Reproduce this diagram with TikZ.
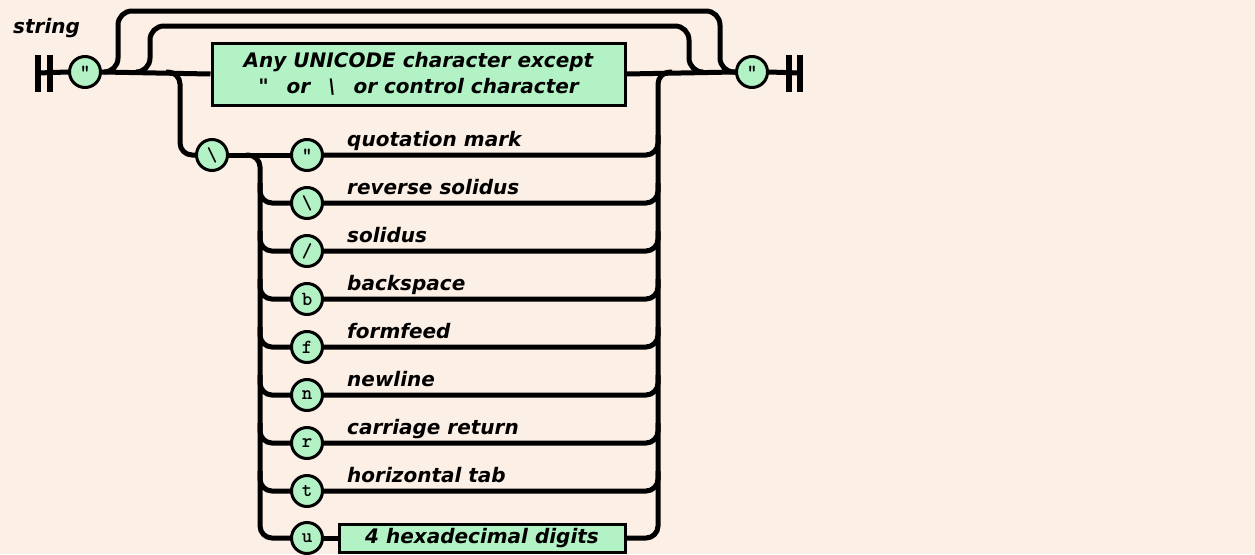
\documentclass[tikz,border=0pt]{standalone}
\usepackage{fontspec}
\newfontfamily\railfont[Ligatures=TeXOff]{DejaVu Sans}
\definecolor{paper}{HTML}{FCEFE5}
\definecolor{tokenfill}{HTML}{B2F2C4}
\begin{document}
\begin{tikzpicture}[x=1pt,y=-1pt,
  track/.style={line width=5pt, rounded corners=12pt},
  token/.style={circle, draw, line width=3pt, fill=tokenfill, minimum size=31pt,
    inner sep=0pt, font=\ttfamily\bfseries\fontsize{20}{20}\selectfont},
  sbox/.style={rectangle, draw, line width=3pt, fill=tokenfill, inner sep=0pt,
    align=center, font=\railfont\bfseries\itshape\fontsize{20}{26}\selectfont},
  termbar/.style={rectangle, fill=black, minimum width=6pt, minimum height=37pt, inner sep=0pt},
  lbl/.style={anchor=base west, inner sep=0pt,
    font=\railfont\bfseries\itshape\fontsize{20}{24}\selectfont}]
\fill[paper] (0,0) rectangle (1255,554);
\useasboundingbox (0,0) rectangle (1255,554);

% title
\node[lbl] (title) at (13,33) {string};

% terminators
\node[termbar] (lb1) at (38,73) {};
\node[termbar] (lb2) at (50,73) {};
\node[termbar] (rb1) at (789,73) {};
\node[termbar] (rb2) at (800,73) {};

% main line tokens
\node[token] (qo) at (85,72) {"};
\node[token] (qc) at (752,72) {"};
\node[sbox, minimum width=413pt, minimum height=62pt] (chars) at (418.5,74)
  {Any UNICODE character except\\"\hspace{0.9em}or\hspace{0.9em}\textbackslash\hspace{0.9em}or control character};

% escape tokens
\node[token] (esc) at (212,155) {\textbackslash};
\node[token] (r1) at (307,155) {"};
\node[token] (r2) at (307,203) {\textbackslash};
\node[token] (r3) at (307,251) {/};
\node[token] (r4) at (307,299) {b};
\node[token] (r5) at (307,347) {f};
\node[token] (r6) at (307,395) {n};
\node[token] (r7) at (307,443) {r};
\node[token] (r8) at (307,491) {t};
\node[token] (r9) at (307,538) {u};
\node[sbox, minimum width=286pt, minimum height=28pt] (hex) at (482,538) {4 hexadecimal digits};

% row labels
\node[lbl] (l1) at (347,146) {quotation mark};
\node[lbl] (l2) at (347,194) {reverse solidus};
\node[lbl] (l3) at (347,242) {solidus};
\node[lbl] (l4) at (347,290) {backspace};
\node[lbl] (l5) at (347,338) {formfeed};
\node[lbl] (l6) at (347,386) {newline};
\node[lbl] (l7) at (347,434) {carriage return};
\node[lbl] (l8) at (347,482) {horizontal tab};

% main line
\draw[track] (lb1.center) -- (qo.west);
\draw[track] (qo.east) -- (chars.west);
\draw[track] (chars.east) -- (qc.west);
\draw[track] (qc.east) -- (rb2.center);

% repeat loops over the character box
\coordinate (outerA) at (104,72);
\coordinate (outerB) at (736,72);
\coordinate (innerA) at (136,72);
\coordinate (innerB) at (703,72);
\draw[track, rounded corners=14pt] (outerA) -- (118,72) -- (118,11) -- (720,11) -- (720,72) -- (outerB);
\draw[track, rounded corners=14pt] (innerA) -- (150,72) -- (150,26) -- (689,26) -- (689,72) -- (innerB);

% escape branch
\coordinate (escA) at (166,72);
\draw[track] (escA) -- (180,72) -- (180,155) -- (esc.west);
\draw[track] (esc.east) -- (r1.west);

% left spine
\coordinate (spineL) at (246,155);
\draw[track] (spineL) -- (260,155) -- (260,538) -- (r9.west);
\foreach \k/\y in {2/203,3/251,4/299,5/347,6/395,7/443,8/491}
  \draw[track] (260,\y-20) |- (r\k.west);

% right spine
\coordinate (spineR) at (672,72);
\draw[track] (r9.east) -- (hex.west);
\draw[track] (hex.east) -- (658,538) -- (658,72) -- (spineR);
\foreach \k/\y in {1/155,2/203,3/251,4/299,5/347,6/395,7/443,8/491}
  \draw[track] (r\k.east) -| (658,\y-20);
\end{tikzpicture}
\end{document}
